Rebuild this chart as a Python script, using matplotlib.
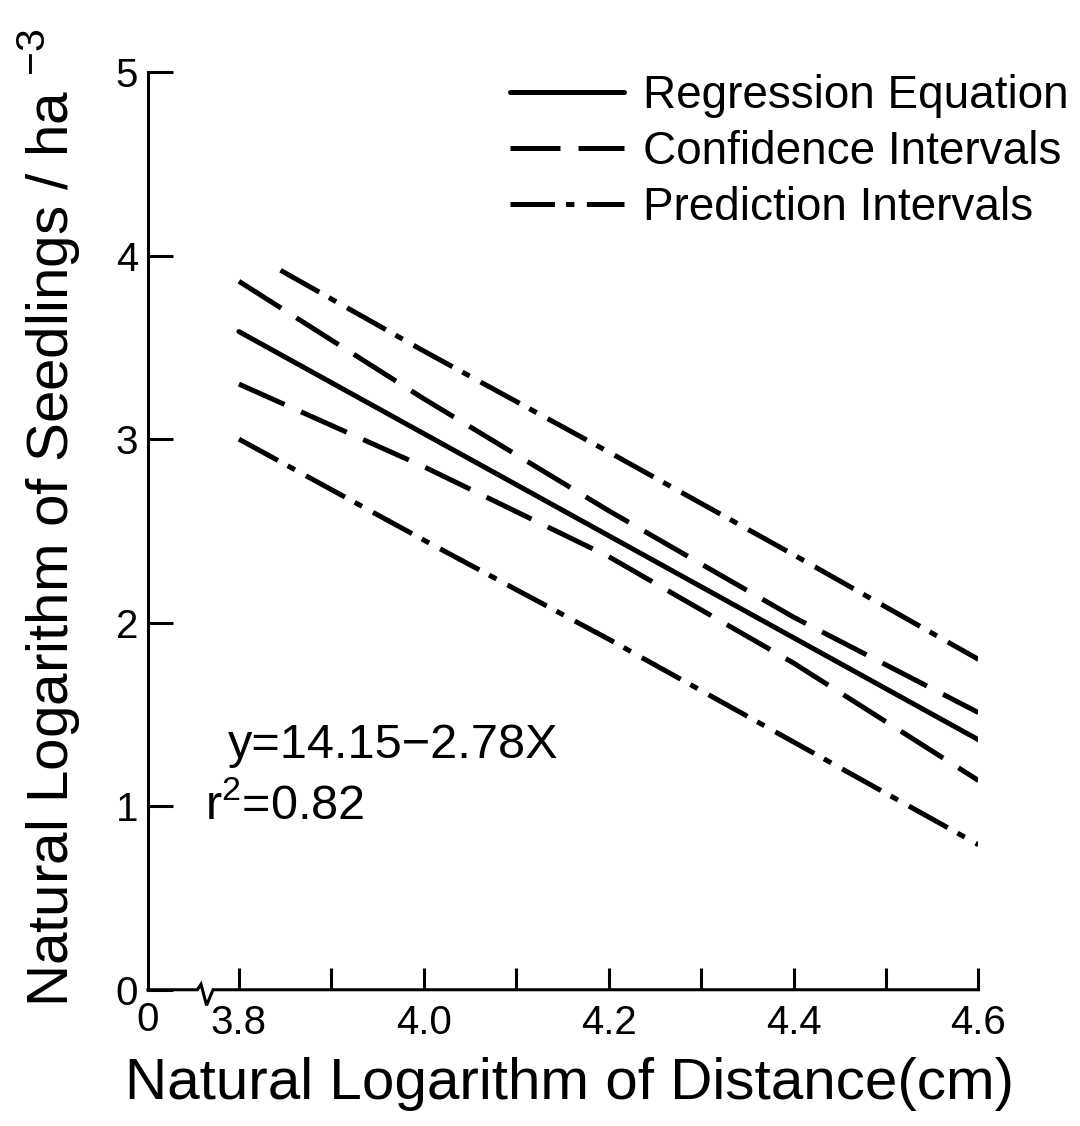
from matplotlib import pyplot as plt
from matplotlib.transforms import blended_transform_factory

plt.rcParams['font.family'] = ['Liberation Sans', 'DejaVu Sans']
plt.rcParams['mathtext.fontset'] = 'custom'
plt.rcParams['mathtext.rm'] = 'Liberation Sans'
plt.rcParams['lines.scale_dashes'] = False

# fitted line  y = a + b*x
intercept = 14.15
slope = -2.78
r2 = 0.82

x = [3.8, 4.0, 4.2, 4.4, 4.6]
ci_upper = [3.86, 3.22, 2.61, 2.03, 1.51]
ci_lower = [3.30, 2.85, 2.36, 1.78, 1.14]
pi_x_upper = [3.845, 4.0, 4.2, 4.4, 4.6]
pi_upper = [3.92, 3.48, 2.93, 2.37, 1.80]
pi_lower = [3.00, 2.45, 1.91, 1.35, 0.79]

xticks = [3.8, 3.9, 4.0, 4.1, 4.2, 4.3, 4.4, 4.5, 4.6]
xticklabels = ['3.8', '', '4.0', '', '4.2', '', '4.4', '', '4.6']
yticks = [0, 1, 2, 3, 4, 5]

reg = [intercept + slope * v for v in x]

fig = plt.figure(figsize=(10.8, 11.26), dpi=100)
ax = fig.add_axes([0.137, 0.121, 0.769, 0.815])

lw = 3.6
ax.plot(x, reg, color='black', lw=lw, solid_capstyle='round',
        label='Regression Equation')
ax.plot(x, ci_upper, color='black', lw=lw, dashes=(36, 13),
        label='Confidence Intervals')
ax.plot(x, ci_lower, color='black', lw=lw, dashes=(36, 13))
ax.plot(pi_x_upper, pi_upper, color='black', lw=lw, dashes=(32, 8, 6, 9),
        label='Prediction Intervals')
ax.plot(x, pi_lower, color='black', lw=lw, dashes=(32, 8, 6, 9))

ax.set_xlim(3.7016, 4.6)
ax.set_ylim(0, 5)

for s in ['top', 'right', 'bottom']:
    ax.spines[s].set_visible(False)
ax.spines['left'].set_linewidth(2.2)

# x axis drawn by hand so it can carry the break mark
tr = blended_transform_factory(ax.transData, ax.transAxes)
bx = [3.7016, 3.755, 3.759, 3.765, 3.772, 4.6]
by = [0, 0, 0.006, -0.017, 0.0, 0]
ax.plot(bx, by, color='black', lw=2.2, transform=tr, clip_on=False,
        solid_joinstyle='miter')

ax.set_xticks(xticks)
ax.set_xticklabels(xticklabels)
ax.set_yticks(yticks)
ax.tick_params(axis='both', direction='in', width=2.2, labelsize=29)
ax.tick_params(axis='x', length=16, pad=10)
ax.tick_params(axis='y', length=18, pad=7)
ax.text(3.7016, -0.012, '0', transform=tr, ha='center', va='top',
        fontsize=29)

ax.text(3.788, 1.33, 'y=14.15\u22122.78X', fontsize=35, va='center')
ax.text(3.763, 1.0, r'r$^{\mathregular{2}}$=0.82', fontsize=35, va='center')

ax.legend(loc='upper right', bbox_to_anchor=(1.158, 1.043), frameon=False,
          fontsize=33, handlelength=2.5, handletextpad=0.4,
          labelspacing=0.26)

fig.text(0.527, 0.013, 'Natural Logarithm of Distance(cm)', ha='center',
         va='bottom', fontsize=42)
fig.text(0.046, 0.54,
         'Natural Logarithm of Seedlings / ha $^{\\mathregular{\u22123}}$',
         rotation=90, ha='center', va='center', fontsize=42)

plt.savefig('out.png', dpi=100)
